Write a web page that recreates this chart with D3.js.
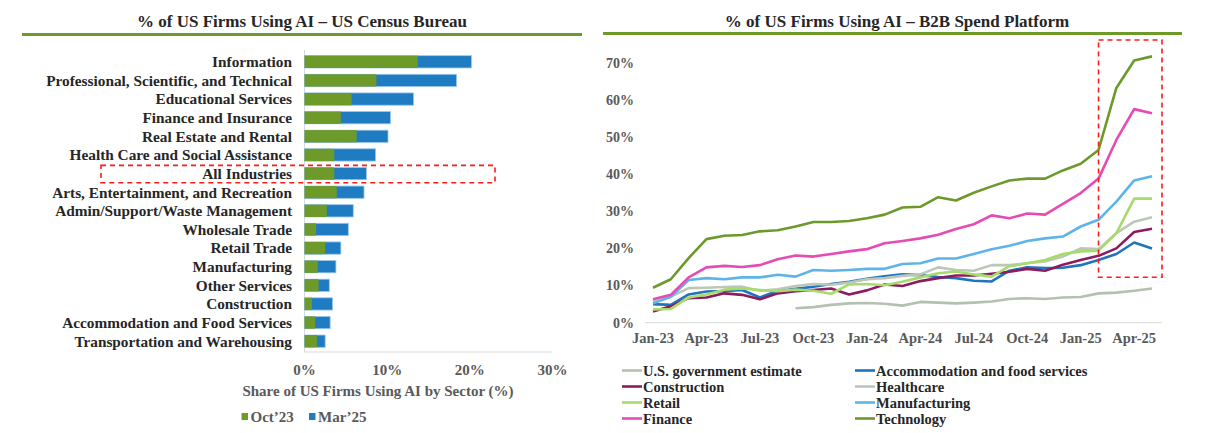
<!DOCTYPE html>
<html>
<head>
<meta charset="utf-8">
<script src="https://cdnjs.cloudflare.com/ajax/libs/d3/7.8.5/d3.min.js"></script>
<style>
  body { margin: 0; background: #fff; }
  svg text { font-family: "Liberation Serif", "DejaVu Serif", serif; font-weight: bold; }
</style>
</head>
<body>
<script>
// left panel: census bureau sectors
var sectors = ["Information", "Professional, Scientific, and Technical", "Educational Services",
  "Finance and Insurance", "Real Estate and Rental", "Health Care and Social Assistance",
  "All Industries", "Arts, Entertainment, and Recreation", "Admin/Support/Waste Management",
  "Wholesale Trade", "Retail Trade", "Manufacturing", "Other Services", "Construction",
  "Accommodation and Food Services", "Transportation and Warehousing"];
var oct23 = [13.7, 8.7, 5.7, 4.4, 6.3, 3.6, 3.6, 3.9, 2.7, 1.4, 2.5, 1.6, 1.7, 0.9, 1.3, 1.5];
var mar25 = [20.2, 18.4, 13.2, 10.4, 10.1, 8.6, 7.5, 7.2, 5.9, 5.3, 4.4, 3.8, 3.0, 3.4, 3.1, 2.5];
var barTicks = [0, 10, 20, 30];

// right panel: spend platform, monthly
var months = ["Jan-23", "Feb-23", "Mar-23", "Apr-23", "May-23", "Jun-23", "Jul-23", "Aug-23", "Sep-23",
  "Oct-23", "Nov-23", "Dec-23", "Jan-24", "Feb-24", "Mar-24", "Apr-24", "May-24", "Jun-24", "Jul-24",
  "Aug-24", "Sep-24", "Oct-24", "Nov-24", "Dec-24", "Jan-25", "Feb-25", "Mar-25", "Apr-25", "May-25"];
var monthTicks = ["Jan-23", "Apr-23", "Jul-23", "Oct-23", "Jan-24", "Apr-24", "Jul-24", "Oct-24", "Jan-25", "Apr-25"];
var pctTicks = [0, 10, 20, 30, 40, 50, 60, 70];

var govEstimate = [null, null, null, null, null, null, null, null, 3.9, 4.2, 4.8, 5.2, 5.3, 5.1, 4.6, 5.6,
  5.4, 5.2, 5.4, 5.7, 6.4, 6.6, 6.4, 6.8, 6.9, 7.9, 8.1, 8.6, 9.2];
var accommodation = [5.0, 4.8, 7.6, 8.4, 8.5, 8.8, 6.8, 8.6, 9.1, 9.7, 10.4, 11.0, 11.8, 12.5, 13.0, 12.8,
  12.3, 12.0, 11.3, 11.1, 14.0, 14.9, 14.7, 14.8, 15.5, 16.9, 18.5, 21.6, 20.0];
var construction = [3.0, 4.4, 6.6, 6.8, 7.9, 7.5, 6.3, 7.9, 8.5, 8.8, 9.2, 7.6, 8.7, 10.3, 9.9, 11.2,
  12.0, 12.7, 12.7, 13.2, 13.7, 14.5, 14.0, 15.6, 16.9, 18.0, 20.0, 24.4, 25.3];
var healthcare = [5.7, 7.0, 9.3, 9.4, 9.6, 9.7, 8.6, 9.0, 9.9, 10.4, 10.2, 10.8, 11.7, 12.0, 12.6, 13.0,
  14.9, 14.2, 14.0, 15.5, 15.5, 16.0, 16.5, 17.8, 20.0, 19.8, 24.1, 27.2, 28.4];
var retail = [3.6, 3.7, 6.8, 7.6, 8.9, 9.2, 8.8, 8.5, 8.9, 8.6, 7.8, 10.3, 10.4, 10.1, 11.0, 12.2,
  13.3, 13.8, 13.0, 12.4, 15.2, 16.0, 16.9, 18.5, 19.2, 19.4, 24.1, 33.4, 33.4];
var manufacturing = [5.2, 7.0, 11.5, 12.0, 11.7, 12.2, 12.2, 12.9, 12.4, 14.2, 14.0, 14.2, 14.5, 14.5, 15.8, 16.0,
  17.3, 17.3, 18.5, 19.8, 20.7, 22.0, 22.7, 23.2, 25.9, 27.7, 32.6, 38.3, 39.4];
var finance = [6.3, 7.5, 12.2, 14.9, 15.3, 15.0, 15.5, 17.1, 18.1, 17.8, 18.5, 19.2, 19.8, 21.4, 22.0, 22.7,
  23.7, 25.2, 26.5, 28.9, 28.1, 29.4, 29.1, 32.0, 34.9, 38.8, 49.2, 57.5, 56.4];
var technology = [9.4, 11.7, 17.4, 22.5, 23.4, 23.6, 24.6, 24.9, 25.9, 27.1, 27.1, 27.4, 28.1, 29.1, 31.0, 31.2,
  33.8, 32.9, 35.0, 36.7, 38.3, 38.8, 38.8, 41.0, 42.8, 46.5, 63.2, 70.6, 71.7];

var seriesNames = ["U.S. government estimate", "Accommodation and food services", "Construction", "Healthcare",
  "Retail", "Manufacturing", "Finance", "Technology"];
var seriesValues = [govEstimate, accommodation, construction, healthcare, retail, manufacturing, finance, technology];
var seriesColors = ["#b3c1b1", "#1f74bd", "#8c1c5f", "#bcc7ba", "#a7db6b", "#5db4ea", "#e64bb3", "#6b9a2a"];

var green = "#6e9a2a", blue = "#1f7cc3";
var darkText = "#262626", tickText = "#595959";

var svg = d3.select("body").append("svg")
  .attr("width", 1227)
  .attr("height", 433);

// titles with green rule underneath
svg.append("text").attr("x", 302).attr("y", 27).attr("text-anchor", "middle")
  .attr("font-size", 17).attr("fill", darkText)
  .text("% of US Firms Using AI \u2013 US Census Bureau");
svg.append("line").attr("x1", 22).attr("x2", 582).attr("y1", 34.5).attr("y2", 34.5)
  .attr("stroke", green).attr("stroke-width", 3);

svg.append("text").attr("x", 897).attr("y", 27).attr("text-anchor", "middle")
  .attr("font-size", 17).attr("fill", darkText)
  .text("% of US Firms Using AI \u2013 B2B Spend Platform");
svg.append("line").attr("x1", 603).attr("x2", 1182).attr("y1", 33.5).attr("y2", 33.5)
  .attr("stroke", green).attr("stroke-width", 3);

// ---------- left bars ----------
var xBar = d3.scaleLinear().domain([0, 30]).range([304.5, 552.5]);
var yBar = d3.scaleBand().domain(sectors).range([52.5, 350.5]).paddingInner(0.34).paddingOuter(0.17);

var left = svg.append("g");

left.append("line").attr("x1", xBar(0)).attr("x2", xBar(0)).attr("y1", 50).attr("y2", 352)
  .attr("stroke", "#d9d9d9");
left.append("line").attr("x1", xBar(0)).attr("x2", xBar(30)).attr("y1", 352).attr("y2", 352)
  .attr("stroke", "#d9d9d9");

left.selectAll("rect.mar").data(sectors).enter().append("rect")
  .attr("class", "mar")
  .attr("x", xBar(0))
  .attr("y", function(d) { return yBar(d); })
  .attr("width", function(d, i) { return xBar(mar25[i]) - xBar(0); })
  .attr("height", yBar.bandwidth())
  .attr("fill", blue)
  .attr("stroke", "#9cc8ec").attr("stroke-width", 0.8);

left.selectAll("rect.oct").data(sectors).enter().append("rect")
  .attr("class", "oct")
  .attr("x", xBar(0))
  .attr("y", function(d) { return yBar(d); })
  .attr("width", function(d, i) { return xBar(oct23[i]) - xBar(0); })
  .attr("height", yBar.bandwidth())
  .attr("fill", green);

left.selectAll("text.cat").data(sectors).enter().append("text")
  .attr("class", "cat")
  .attr("x", 292)
  .attr("y", function(d) { return yBar(d) + yBar.bandwidth() / 2; })
  .attr("dy", "0.35em")
  .attr("text-anchor", "end")
  .attr("font-size", 15.3)
  .attr("fill", darkText)
  .text(function(d) { return d; });

left.selectAll("text.xt").data(barTicks).enter().append("text")
  .attr("class", "xt")
  .attr("x", function(d) { return xBar(d); })
  .attr("y", 375)
  .attr("text-anchor", "middle")
  .attr("font-size", 15)
  .attr("fill", tickText)
  .text(function(d) { return d + "%"; });

left.append("text").attr("x", 378).attr("y", 396).attr("text-anchor", "middle")
  .attr("font-size", 15).attr("fill", tickText)
  .text("Share of US Firms Using AI by Sector (%)");

// highlight box round All Industries
left.append("rect")
  .attr("x", 101).attr("y", yBar("All Industries") - 2)
  .attr("width", 394).attr("height", yBar.bandwidth() + 5)
  .attr("fill", "none").attr("stroke", "#ff1a1a").attr("stroke-width", 1.6)
  .attr("stroke-dasharray", "5,4");

var barLegend = [["Oct\u201923", green, 241.5], ["Mar\u201925", blue, 309]];
left.selectAll("g.leg").data(barLegend).enter().append("g")
  .attr("class", "leg")
  .each(function(d) {
    var g = d3.select(this);
    g.append("rect").attr("x", d[2]).attr("y", 413).attr("width", 6.5).attr("height", 7).attr("fill", d[1]);
    g.append("text").attr("x", d[2] + 9).attr("y", 421.5).attr("font-size", 15).attr("fill", tickText).text(d[0]);
  });

// ---------- right lines ----------
var xLine = d3.scalePoint().domain(months).range([653, 1152]);
var yLine = d3.scaleLinear().domain([0, 70]).range([322.7, 62.7]);

var right = svg.append("g");

right.append("line").attr("x1", 645).attr("x2", 1162).attr("y1", yLine(0)).attr("y2", yLine(0))
  .attr("stroke", "#d9d9d9");

right.selectAll("text.yt").data(pctTicks).enter().append("text")
  .attr("class", "yt")
  .attr("x", 634)
  .attr("y", function(d) { return yLine(d); })
  .attr("dy", "0.35em")
  .attr("text-anchor", "end")
  .attr("font-size", 14)
  .attr("fill", tickText)
  .text(function(d) { return d + "%"; });

right.selectAll("text.mt").data(monthTicks).enter().append("text")
  .attr("class", "mt")
  .attr("x", function(d) { return xLine(d); })
  .attr("y", 343)
  .attr("text-anchor", "middle")
  .attr("font-size", 14.5)
  .attr("fill", tickText)
  .text(function(d) { return d; });

var line = d3.line()
  .defined(function(d) { return d != null; })
  .x(function(d, i) { return xLine(months[i]); })
  .y(function(d) { return yLine(d); });

right.selectAll("path.series").data(seriesValues).enter().append("path")
  .attr("class", "series")
  .attr("d", line)
  .attr("fill", "none")
  .attr("stroke", function(d, i) { return seriesColors[i]; })
  .attr("stroke-width", 2.6)
  .attr("stroke-linejoin", "round");

// highlight box on the recent jump
right.append("rect")
  .attr("x", xLine("Feb-25")).attr("y", 40)
  .attr("width", 1162 - xLine("Feb-25")).attr("height", 277.3 - 40)
  .attr("fill", "none").attr("stroke", "#ff1a1a").attr("stroke-width", 1.6)
  .attr("stroke-dasharray", "5,4");

// legend, two columns
var legend = right.selectAll("g.sleg").data(seriesNames).enter().append("g")
  .attr("class", "sleg")
  .attr("transform", function(d, i) {
    return "translate(" + (i % 2 === 0 ? 622 : 855) + "," + (370.5 + Math.floor(i / 2) * 16) + ")";
  });
legend.append("line").attr("x1", 0).attr("x2", 20).attr("y1", 0).attr("y2", 0)
  .attr("stroke", function(d, i) { return seriesColors[i]; })
  .attr("stroke-width", 2.6);
legend.append("text").attr("x", 21).attr("dy", "0.35em")
  .attr("font-size", 14.5).attr("fill", darkText)
  .text(function(d) { return d; });
</script>
</body>
</html>
